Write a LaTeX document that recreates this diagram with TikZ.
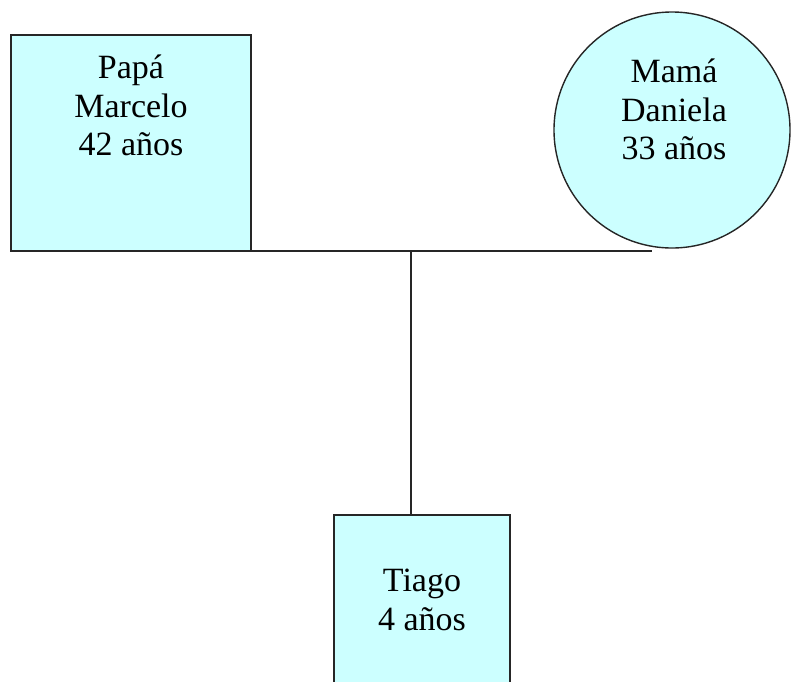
\documentclass[tikz,border=0pt]{standalone}
\usepackage{fontspec}
\setmainfont{Liberation Serif}
\definecolor{celeste}{HTML}{CCFFFF}
\begin{document}
\begin{tikzpicture}[x=1pt, y=-1pt]

\tikzstyle{every node} = [inner sep=0pt]
\tikzstyle{persona} = [draw=black!85, line width=1.4pt, fill=celeste]
\tikzstyle{nombre} = [align=center, anchor=north, font=\fontsize{34}{38.5}\selectfont]

\useasboundingbox (0,0) rectangle (791,681);

\node[persona, rectangle, minimum width=240pt, minimum height=216pt] (papa) at (131,143) {};
\node[persona, circle, minimum size=236pt] (mama) at (672,130) {};
\node[persona, rectangle, minimum width=176pt, minimum height=200pt] (tiago) at (422,615) {};

\node[nombre] (tpapa) at (131,55) {Papá\\Marcelo\\42 años};
\node[nombre] (tmama) at (674,59) {Mamá\\Daniela\\33 años};
\node[nombre] (ttiago) at (422,569) {Tiago\\4 años};

\coordinate (hl) at (187,251);
\coordinate (hr) at (652,251);
\coordinate (mid) at (411,251);

\draw[line width=1.4pt, black!85] (hl) -- (hr);
\draw[line width=1.4pt, black!85] (mid) -- (mid |- tiago.north);
\end{tikzpicture}
\end{document}
